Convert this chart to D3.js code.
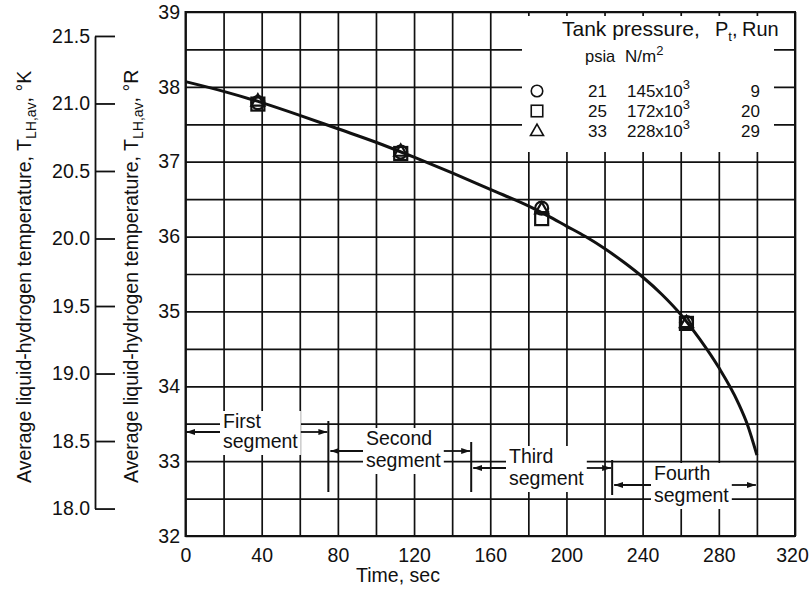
<!DOCTYPE html>
<html>
<head>
<meta charset="utf-8">
<script src="https://cdn.jsdelivr.net/npm/d3@7"></script>
<style>
  body { margin: 0; background: #fff; }
  svg { display: block; }
  text { font-family: "Liberation Sans", Arial, sans-serif; fill: #111; }
</style>
</head>
<body>
<svg id="chart" width="810" height="590"></svg>
<script>
// Faired curve of average liquid-hydrogen temperature (deg R) against time (sec)
const timeSec = [0, 20, 40, 60, 80, 100, 120, 140, 160, 180, 190, 200, 210, 220, 230, 240, 250, 260, 270, 280, 290, 295, 300];
const tempR   = [38.07, 37.94, 37.79, 37.62, 37.44, 37.26, 37.06, 36.85, 36.63, 36.41, 36.28, 36.14, 36.00, 35.84, 35.66, 35.46, 35.23, 34.96, 34.63, 34.25, 33.79, 33.49, 33.08];

// Measured averages for the three runs
const pointTimes = [38, 113, 187, 263];
const run9Temp  = [37.79, 37.13, 36.38, 34.85];   // circles
const run20Temp = [37.77, 37.11, 36.24, 34.84];   // squares
const run29Temp = [37.81, 37.14, 36.37, 34.85];   // triangles

// Legend table
const runIds     = ["9", "20", "29"];
const psiaVals   = ["21", "25", "33"];
const pressureN  = ["145", "172", "228"];
const runShapes  = ["circle", "square", "triangle"];

// Time segments (sec)
const segNames  = ["First", "Second", "Third", "Fourth"];
const segBounds = [0, 75, 150, 224, 300];

// Axis ticks
const xLabelTicks = [0, 40, 80, 120, 160, 200, 240, 280, 320];
const xGridTicks  = d3.range(0, 321, 20);
const yLabelTicks = [32, 33, 34, 35, 36, 37, 38, 39];
const yGridTicks  = d3.range(32, 39.01, 0.5);
const kTicks      = [18.0, 18.5, 19.0, 19.5, 20.0, 20.5, 21.0, 21.5];

// ---------- layout ----------
const M = { left: 185.5, right: 795, top: 12, bottom: 536 };
const INK = "#111";
const FS = 19.5;
const svg = d3.select("#chart");

const x = d3.scaleLinear().domain([0, 320]).range([M.left, M.right]);
const y = d3.scaleLinear().domain([32, 39]).range([M.bottom, M.top]);
// Kelvin scale tied to the Rankine scale (R = 1.8 K)
const yK = d3.scaleLinear().domain([18, 21.5]).range([y(18 * 1.8) + 2.5, y(21.5 * 1.8) + 1.5]);

// arrowhead
svg.append("defs").append("marker")
  .attr("id", "arrow").attr("markerUnits", "userSpaceOnUse")
  .attr("markerWidth", 10).attr("markerHeight", 8)
  .attr("refX", 9).attr("refY", 3.5).attr("orient", "auto")
  .append("path").attr("d", "M0,0.5 L9,3.5 L0,6.5 Z").attr("fill", INK);

// ---------- grid ----------
const gridX = svg.append("g").attr("transform", `translate(0,${M.bottom})`)
  .call(d3.axisBottom(x).tickValues(xGridTicks).tickSize(-(M.bottom - M.top)).tickFormat(""));
const gridY = svg.append("g").attr("transform", `translate(${M.left},0)`)
  .call(d3.axisLeft(y).tickValues(yGridTicks).tickSize(-(M.right - M.left)).tickFormat(""));
[gridX, gridY].forEach(g => {
  g.select(".domain").remove();
  g.selectAll("line").attr("stroke", INK).attr("stroke-width", 1.7);
});

svg.append("rect")
  .attr("x", M.left).attr("y", M.top)
  .attr("width", M.right - M.left).attr("height", M.bottom - M.top)
  .attr("fill", "none").attr("stroke", INK).attr("stroke-width", 2);

// ---------- tick labels ----------
const xLab = svg.append("g").attr("transform", `translate(0,${M.bottom})`)
  .call(d3.axisBottom(x).tickValues(xLabelTicks).tickSize(0).tickPadding(12).tickFormat(d3.format("d")));
const yLab = svg.append("g").attr("transform", `translate(${M.left},0)`)
  .call(d3.axisLeft(y).tickValues(yLabelTicks).tickSize(0).tickPadding(5.5).tickFormat(d3.format("d")));
[xLab, yLab].forEach(g => {
  g.select(".domain").remove();
  g.selectAll("text").attr("font-size", FS).attr("font-family", null).attr("fill", INK);
});
xLab.selectAll("text").filter(d => d === 320).attr("dx", -3);

// Kelvin axis
const kAx = svg.append("g").attr("transform", "translate(95,0)")
  .call(d3.axisLeft(yK).tickValues(kTicks).tickSizeInner(-20).tickSizeOuter(0)
    .tickPadding(5).tickFormat(d3.format(".1f")));
kAx.select(".domain").attr("stroke", INK).attr("stroke-width", 1.8);
kAx.selectAll("line").attr("stroke", INK).attr("stroke-width", 1.8);
kAx.selectAll("text").attr("font-size", FS).attr("font-family", null).attr("fill", INK);

// ---------- axis titles ----------
function vTitle(xBase, unit) {
  const t = svg.append("text")
    .attr("transform", `translate(${xBase},483) rotate(-90)`)
    .attr("font-size", FS);
  t.append("tspan").text("Average liquid-hydrogen temperature, T");
  t.append("tspan").attr("font-size", 14).attr("dy", 5).text("LH,av");
  t.append("tspan").attr("dy", -5).text(", \u00B0" + unit);
}
vTitle(31, "K");
vTitle(138, "R");

svg.append("text").attr("x", 398).attr("y", 582).attr("text-anchor", "middle")
  .attr("font-size", FS).text("Time, sec");

// ---------- segment annotations ----------
const segLayout = [
  { tx: 223, b1: 428, b2: 448, ay: 432 },
  { tx: 366, b1: 445, b2: 467, ay: 451 },
  { tx: 509, b1: 463, b2: 485, ay: 468 },
  { tx: 654, b1: 480, b2: 502, ay: 485 }
];
const barSpans = [[421, 492], [442, 492], [460, 495]];

const segG = svg.append("g");
segNames.forEach((name, i) => {
  const L = segLayout[i];
  const g = segG.append("g");
  const bg = g.append("rect").attr("fill", "#fff");
  const t1 = g.append("text").attr("x", L.tx).attr("y", L.b1).attr("font-size", FS).text(name);
  const t2 = g.append("text").attr("x", L.tx).attr("y", L.b2).attr("font-size", FS).text("segment");
  const w = Math.max(t1.node().getComputedTextLength(), t2.node().getComputedTextLength());
  const left = L.tx - 3, right = L.tx + w + 3;
  bg.attr("x", left).attr("y", L.b1 - 17).attr("width", right - left).attr("height", L.b2 - L.b1 + 24);
  g.append("line").attr("x1", left).attr("x2", x(segBounds[i]) + (i === 0 ? 0.5 : 2))
    .attr("y1", L.ay).attr("y2", L.ay)
    .attr("stroke", INK).attr("stroke-width", 1.8).attr("marker-end", "url(#arrow)");
  g.append("line").attr("x1", right).attr("x2", x(segBounds[i + 1]) - 1)
    .attr("y1", L.ay).attr("y2", L.ay)
    .attr("stroke", INK).attr("stroke-width", 1.8).attr("marker-end", "url(#arrow)");
});
barSpans.forEach((s, i) => {
  segG.append("line").attr("x1", x(segBounds[i + 1])).attr("x2", x(segBounds[i + 1]))
    .attr("y1", s[0]).attr("y2", s[1]).attr("stroke", INK).attr("stroke-width", 2);
});

// ---------- legend ----------
const lg = svg.append("g");
lg.append("rect").attr("x", 522).attr("y", 16).attr("width", 252).attr("height", 136).attr("fill", "#fff");
lg.append("text").attr("x", 562).attr("y", 36).attr("font-size", 21).text("Tank pressure,");
const pt = lg.append("text").attr("x", 715).attr("y", 36).attr("font-size", 20);
pt.append("tspan").text("P");
pt.append("tspan").attr("font-size", 13).attr("dy", 5).text("t");
pt.append("tspan").attr("dy", -5).text(",");
lg.append("text").attr("x", 742).attr("y", 36).attr("font-size", 20).text("Run");
lg.append("text").attr("x", 585).attr("y", 62).attr("font-size", 16.5).text("psia");
const nm = lg.append("text").attr("x", 625).attr("y", 62).attr("font-size", 17);
nm.append("tspan").text("N/m");
nm.append("tspan").attr("font-size", 13).attr("dy", -7).text("2");

function drawShape(g, shape, cx, cy, s) {
  if (shape === "circle") {
    g.append("circle").attr("cx", cx).attr("cy", cy).attr("r", s / 2);
  } else if (shape === "square") {
    g.append("rect").attr("x", cx - s / 2).attr("y", cy - s / 2).attr("width", s).attr("height", s);
  } else {
    const h = s * 0.87;
    g.append("path").attr("d", `M${cx},${cy - h * 0.6}L${cx + s / 2},${cy + h * 0.4}L${cx - s / 2},${cy + h * 0.4}Z`);
  }
}

runIds.forEach((id, i) => {
  const base = 97 + i * 20;
  const sg = lg.append("g").attr("fill", "none").attr("stroke", INK).attr("stroke-width", 1.6);
  drawShape(sg, runShapes[i], 537, base - 6, runShapes[i] === "triangle" ? 13 : 11.5);
  lg.append("text").attr("x", 607).attr("y", base).attr("text-anchor", "end").attr("font-size", 17).text(psiaVals[i]);
  const p = lg.append("text").attr("x", 627).attr("y", base).attr("font-size", 17);
  p.append("tspan").text(pressureN[i] + "x10");
  p.append("tspan").attr("font-size", 13).attr("dy", -8).text("3");
  lg.append("text").attr("x", 760).attr("y", base).attr("text-anchor", "end").attr("font-size", 17).text(id);
});

// ---------- curve ----------
const line = d3.line().x((d, i) => x(timeSec[i])).y(d => y(d)).curve(d3.curveMonotoneX);
svg.append("path").datum(tempR).attr("d", line)
  .attr("fill", "none").attr("stroke", INK).attr("stroke-width", 3);

// ---------- data points ----------
const ptG = svg.append("g").attr("fill", "none").attr("stroke", INK).attr("stroke-width", 2.2);
[[run9Temp, "circle", 13], [run20Temp, "square", 13], [run29Temp, "triangle", 13]].forEach(([vals, shape, s]) => {
  vals.forEach((v, i) => drawShape(ptG, shape, x(pointTimes[i]), y(v), s));
});
</script>
</body>
</html>
